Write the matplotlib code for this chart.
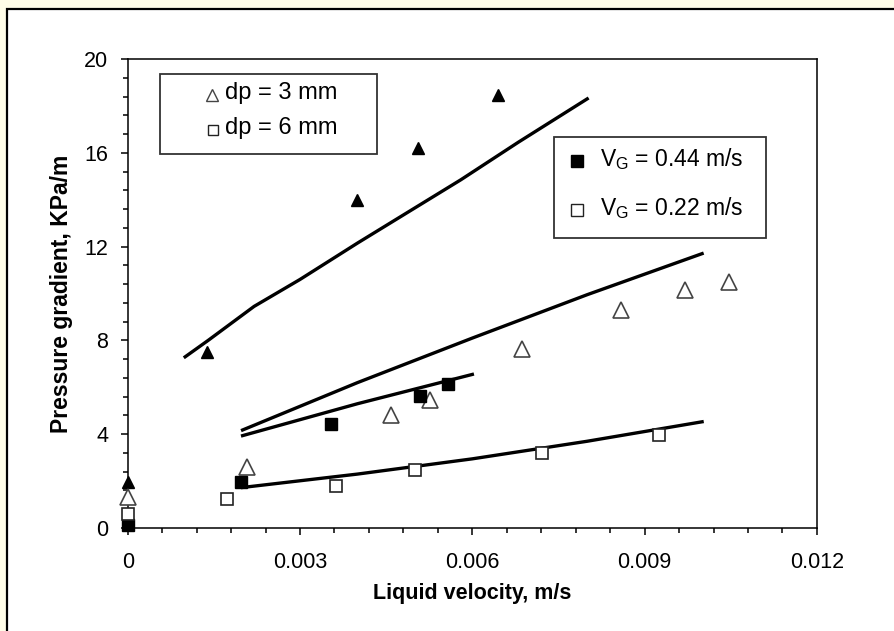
# -*- coding: utf-8 -*-

import matplotlib
matplotlib.use("Agg")
import matplotlib.pyplot as plt
from matplotlib.patches import Rectangle
from matplotlib.ticker import MultipleLocator

plt.rcParams['font.family'] = ['Liberation Sans', 'DejaVu Sans']
plt.rcParams['mathtext.fontset'] = 'custom'
plt.rcParams['mathtext.rm'] = 'Liberation Sans'
plt.rcParams['mathtext.default'] = 'regular'

# measured points, dp = 3 mm
x_t44 = [0.0, 0.00138, 0.0040, 0.00505, 0.00645]
y_t44 = [1.95, 7.5, 14.0, 16.2, 18.45]
x_t22 = [0.0, 0.00207, 0.00458, 0.00526, 0.00686, 0.00859, 0.00971, 0.01047]
y_t22 = [1.33, 2.6, 4.8, 5.45, 7.65, 9.3, 10.15, 10.5]

# measured points, dp = 6 mm
x_s44 = [0.0, 0.00198, 0.00354, 0.00509, 0.00557]
y_s44 = [0.15, 1.95, 4.45, 5.65, 6.15]
x_s22 = [0.0, 0.00172, 0.00363, 0.00501, 0.00721, 0.00925]
y_s22 = [0.6, 1.25, 1.8, 2.47, 3.18, 3.97]

# model curves
xm_t44 = [0.001, 0.0014, 0.0022, 0.003, 0.004, 0.005, 0.0058, 0.0068, 0.008]
ym_t44 = [7.3, 8.0, 9.45, 10.6, 12.15, 13.65, 14.85, 16.45, 18.3]
xm_t22 = [0.002, 0.004, 0.006, 0.008, 0.010]
ym_t22 = [4.18, 6.2, 8.1, 9.95, 11.7]
xm_s44 = [0.002, 0.004, 0.006]
ym_s44 = [3.94, 5.3, 6.55]
xm_s22 = [0.002, 0.004, 0.006, 0.008, 0.010]
ym_s22 = [1.73, 2.3, 2.95, 3.7, 4.53]

xticks = [0, 0.003, 0.006, 0.009, 0.012]
xtick_labels = ["0", "0.003", "0.006", "0.009", "0.012"]
yticks = [0, 4, 8, 12, 16, 20]
ytick_labels = ["0", "4", "8", "12", "16", "20"]

legend1_labels = ["dp = 3 mm", "dp = 6 mm"]
legend2_labels = [r"V$_{G}$ = 0.44 m/s", r"V$_{G}$ = 0.22 m/s"]


def main():
    fig = plt.figure(figsize=(8.95, 6.31), dpi=100, facecolor='#fffde8')
    # white page with black frame
    fig.add_artist(Rectangle((0.0073, -0.05), 1.2, 1.0365, transform=fig.transFigure,
                             facecolor='white', edgecolor='black', lw=1.6, zorder=-10))
    ax = fig.add_axes([0.1427, 0.1632, 0.7701, 0.7433])
    ax.set_facecolor('white')

    lw = 2.4
    ax.plot(xm_t44, ym_t44, color='black', lw=lw, zorder=2)
    ax.plot(xm_t22, ym_t22, color='black', lw=lw, zorder=2)
    ax.plot(xm_s44, ym_s44, color='black', lw=lw, zorder=2)
    ax.plot(xm_s22, ym_s22, color='black', lw=lw, zorder=2)

    ax.plot(x_t44, y_t44, ls='none', marker='^', ms=8.5, mfc='black', mec='black',
            clip_on=False, zorder=3)
    ax.plot(x_t22, y_t22, ls='none', marker='^', ms=11, mfc='white', mec='#444444',
            mew=1.2, clip_on=False, zorder=3)
    ax.plot(x_s44, y_s44, ls='none', marker='s', ms=9, mfc='black', mec='black',
            clip_on=False, zorder=3)
    ax.plot(x_s22, y_s22, ls='none', marker='s', ms=8.3, mfc='white', mec='#222222',
            mew=1.2, clip_on=False, zorder=3)

    ax.set_xlim(0, 0.012)
    ax.set_ylim(0, 20)
    ax.set_xticks(xticks)
    ax.set_xticklabels(xtick_labels)
    ax.set_yticks(yticks)
    ax.set_yticklabels(ytick_labels)
    ax.xaxis.set_minor_locator(MultipleLocator(0.0006))
    ax.yaxis.set_minor_locator(MultipleLocator(0.8))
    ax.tick_params(which='major', direction='out', length=5, width=1.1,
                   labelsize=15, color='black')
    ax.tick_params(which='minor', direction='out', length=3.5, width=1.1)
    ax.tick_params(axis='x', pad=12, labelsize=15.5)
    ax.tick_params(axis='y', pad=9, labelsize=15.5)
    for sp in ax.spines.values():
        sp.set_linewidth(1.1)

    ax.set_xlabel("Liquid velocity, m/s", fontsize=15.5, fontweight='bold')
    ax.set_ylabel("Pressure gradient, KPa/m", fontsize=16.5, fontweight='bold')
    ax.xaxis.set_label_coords(0.5, -0.118)
    ax.yaxis.set_label_coords(-0.08, 0.5)

    # legend box 1 (particle size)
    ax.add_patch(Rectangle((0.0469, 0.7968), 0.3147, 0.1706, transform=ax.transAxes,
                           facecolor='white', edgecolor='#333333', lw=1.3, zorder=4))
    ax.plot([0.1223], [0.9232], transform=ax.transAxes, ls='none', marker='^', ms=9,
            mfc='white', mec='#444444', mew=1.0, zorder=5, clip_on=False)
    ax.plot([0.1238], [0.8486], transform=ax.transAxes, ls='none', marker='s', ms=6.5,
            mfc='white', mec='#222222', mew=1.0, zorder=5, clip_on=False)
    for lab, yy in zip(legend1_labels, [0.9275, 0.8529]):
        ax.text(0.1412, yy, lab, transform=ax.transAxes, fontsize=17,
                ha='left', va='center', zorder=5)

    # legend box 2 (gas velocity)
    ax.add_patch(Rectangle((0.6189, 0.6177), 0.3073, 0.2166, transform=ax.transAxes,
                           facecolor='white', edgecolor='#333333', lw=1.3, zorder=4))
    ax.plot([0.652], [0.7825], transform=ax.transAxes, ls='none', marker='s', ms=9,
            mfc='black', mec='black', zorder=5, clip_on=False)
    ax.plot([0.652], [0.678], transform=ax.transAxes, ls='none', marker='s', ms=8,
            mfc='white', mec='#222222', mew=1.0, zorder=5, clip_on=False)
    for lab, yy in zip(legend2_labels, [0.7868, 0.682]):
        ax.text(0.6852, yy, lab, transform=ax.transAxes, fontsize=16.5,
                ha='left', va='center', zorder=5)

    fig.savefig('out.png', dpi=100, facecolor=fig.get_facecolor())


if __name__ == "__main__":
    main()
